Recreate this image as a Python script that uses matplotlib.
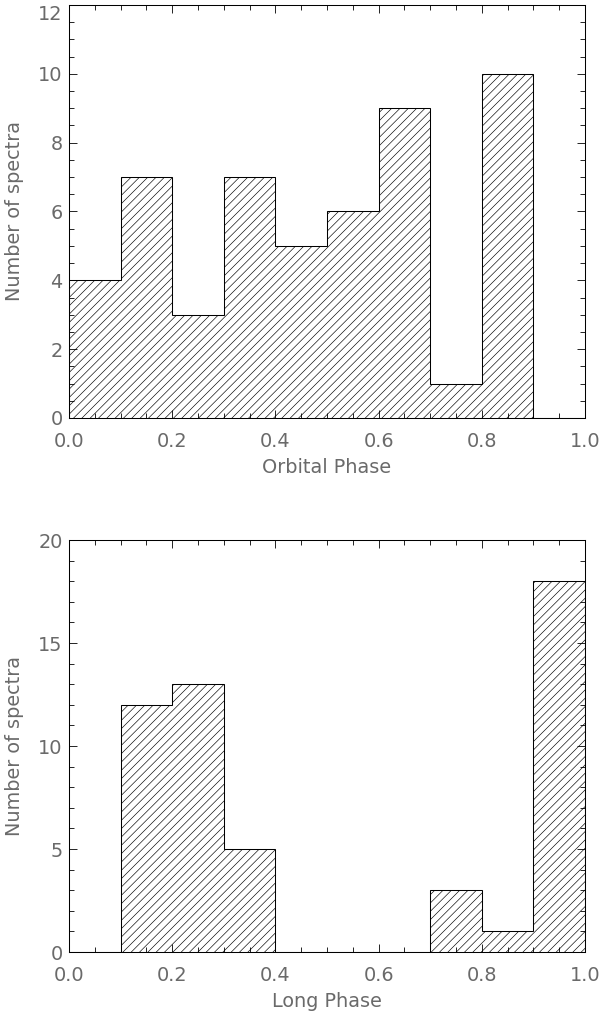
import matplotlib
matplotlib.use('Agg')
import matplotlib.pyplot as plt
from matplotlib.ticker import MultipleLocator

# bin edges shared by both histograms
bin_edges = [0.0, 0.1, 0.2, 0.3, 0.4, 0.5, 0.6, 0.7, 0.8, 0.9, 1.0]

# counts per bin
orbital_counts = [4, 7, 3, 7, 5, 6, 9, 1, 10, 0]
long_counts = [0, 12, 13, 5, 0, 0, 0, 3, 1, 18]

x_label_top = 'Orbital Phase'
x_label_bottom = 'Long Phase'
y_label = 'Number of spectra'

DPI = 75
plt.rcParams['font.family'] = ['DejaVu Sans']
plt.rcParams['hatch.linewidth'] = 0.6
text_color = '#6a6a6a'
fs = 18.5

fig = plt.figure(figsize=(600 / DPI, 1018 / DPI), dpi=DPI)

panels = [
    (orbital_counts, x_label_top, [0.115, 0.5894, 0.86, 0.4057], 12, 2, 0.5),
    (long_counts, x_label_bottom, [0.115, 0.0648, 0.86, 0.4047], 20, 5, 1),
]

axes = []
for counts, xlabel, rect, ymax, ymaj, ymin in panels:
    ax = fig.add_axes(rect)
    # hatched fill, then the outline on top
    ax.stairs(counts, bin_edges, fill=True, facecolor='white', edgecolor='black',
              hatch='///', linewidth=0)
    ax.stairs(counts, bin_edges, fill=False, color='black', linewidth=1.0)
    ax.set_xlim(0, 1)
    ax.set_ylim(0, ymax)
    ax.xaxis.set_major_locator(MultipleLocator(0.2))
    ax.xaxis.set_minor_locator(MultipleLocator(0.05))
    ax.yaxis.set_major_locator(MultipleLocator(ymaj))
    ax.yaxis.set_minor_locator(MultipleLocator(ymin))
    ax.xaxis.set_major_formatter(plt.FuncFormatter(lambda v, p: f'{v:.1f}'))
    ax.yaxis.set_major_formatter(plt.FuncFormatter(lambda v, p: f'{v:.0f}'))
    ax.tick_params(which='both', direction='in', top=True, right=True,
                   colors='black', labelcolor=text_color, width=0.8)
    ax.tick_params(which='major', length=8)
    ax.tick_params(which='minor', length=4.5)
    ax.tick_params(axis='x', labelsize=fs, pad=13)
    ax.tick_params(axis='y', labelsize=fs, pad=6)
    for s in ax.spines.values():
        s.set_linewidth(1.0)
    ax.set_xlabel(xlabel, fontsize=fs, color=text_color, labelpad=7)
    ax.set_ylabel(y_label, fontsize=fs, color=text_color, labelpad=14)
    axes.append(ax)

# keep the top label of the upper panel inside the figure
fig.canvas.draw()
for lab in axes[0].get_yticklabels():
    if lab.get_text() == '12':
        lab.set_verticalalignment('top')

fig.savefig('out.png', dpi=DPI)
